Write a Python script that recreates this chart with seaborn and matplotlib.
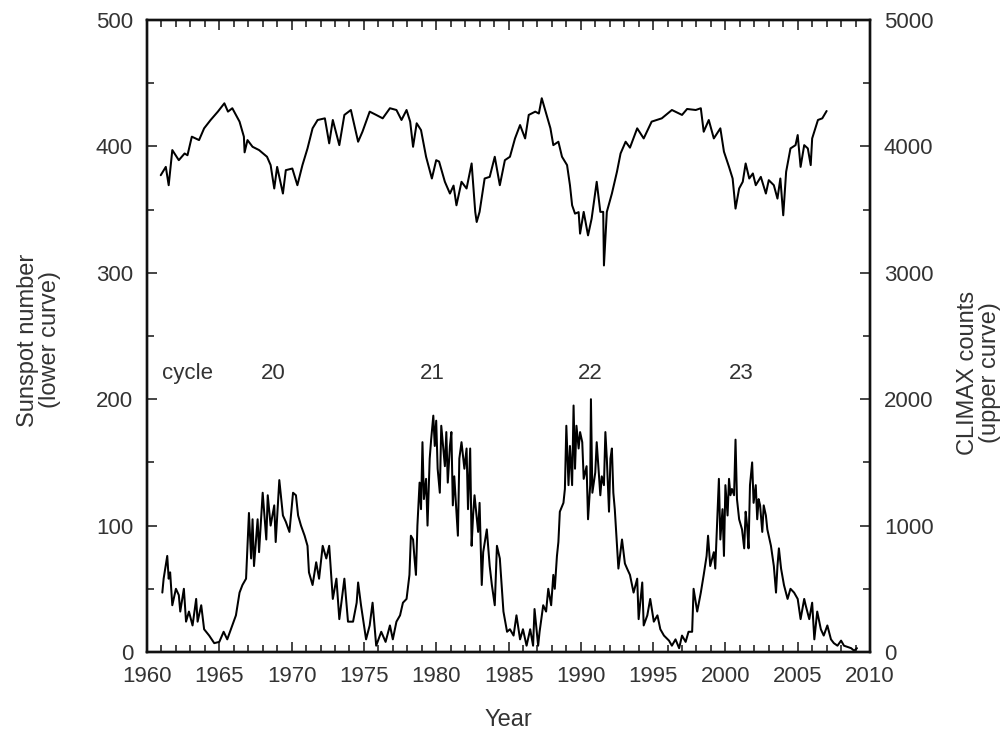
import matplotlib
matplotlib.use("Agg")
import matplotlib.pyplot as plt
from matplotlib.ticker import MultipleLocator
import seaborn as sns
import pandas as pd

# ---- data ----
sunspot_year = [
    1961.06, 1961.15, 1961.4, 1961.5, 1961.6, 1961.75, 1962.0, 1962.2, 1962.3, 1962.55,
    1962.7, 1962.9, 1963.15, 1963.4, 1963.5, 1963.75, 1963.95, 1964.3, 1964.65, 1965.0,
    1965.3, 1965.55, 1965.8, 1966.15, 1966.4, 1966.6, 1966.85, 1967.05, 1967.2, 1967.3,
    1967.4, 1967.65, 1967.75, 1968.0, 1968.25, 1968.35, 1968.55, 1968.8, 1968.9, 1969.15,
    1969.4, 1969.6, 1969.85, 1970.1, 1970.3, 1970.45, 1970.65, 1970.9, 1971.1, 1971.2,
    1971.45, 1971.7, 1971.9, 1972.15, 1972.4, 1972.6, 1972.85, 1973.1, 1973.3, 1973.65,
    1973.9, 1974.25, 1974.5, 1974.6, 1974.8, 1975.15, 1975.4, 1975.6, 1975.85, 1976.2,
    1976.5, 1976.8, 1977.0, 1977.25, 1977.5, 1977.7, 1977.95, 1978.15, 1978.25, 1978.4,
    1978.5, 1978.6, 1978.7, 1978.85, 1978.95, 1979.05, 1979.15, 1979.3, 1979.4, 1979.55,
    1979.65, 1979.8, 1979.9, 1980.0, 1980.1, 1980.25, 1980.35, 1980.6, 1980.7, 1980.8,
    1980.95, 1981.05, 1981.15, 1981.25, 1981.5, 1981.6, 1981.75, 1981.95, 1982.1, 1982.2,
    1982.35, 1982.45, 1982.55, 1982.65, 1982.9, 1983.0, 1983.15, 1983.25, 1983.5, 1983.7,
    1983.85, 1984.05, 1984.2, 1984.4, 1984.65, 1984.9, 1985.1, 1985.35, 1985.55, 1985.8,
    1986.0, 1986.25, 1986.5, 1986.7, 1986.8, 1987.05, 1987.15, 1987.4, 1987.6, 1987.75,
    1987.95, 1988.1, 1988.2, 1988.35, 1988.45, 1988.55, 1988.8, 1988.9, 1989.0, 1989.15,
    1989.25, 1989.4, 1989.5, 1989.6, 1989.7, 1989.85, 1989.95, 1990.1, 1990.2, 1990.4,
    1990.5, 1990.65, 1990.7, 1990.8, 1991.0, 1991.1, 1991.35, 1991.45, 1991.6, 1991.7,
    1991.8, 1991.95, 1992.05, 1992.15, 1992.25, 1992.35, 1992.5, 1992.6, 1992.85, 1993.05,
    1993.2, 1993.4, 1993.65, 1993.9, 1994.0, 1994.25, 1994.35, 1994.6, 1994.8, 1995.05,
    1995.3, 1995.5, 1995.75, 1996.1, 1996.3, 1996.55, 1996.8, 1997.0, 1997.25, 1997.45,
    1997.7, 1997.8, 1998.05, 1998.3, 1998.5, 1998.7, 1998.8, 1998.95, 1999.2, 1999.3,
    1999.55, 1999.65, 1999.8, 1999.9, 2000.0, 2000.15, 2000.25, 2000.35, 2000.45, 2000.6,
    2000.7, 2000.8, 2000.95, 2001.15, 2001.3, 2001.4, 2001.5, 2001.6, 2001.7, 2001.85,
    2001.95, 2002.1, 2002.2, 2002.3, 2002.4, 2002.55, 2002.65, 2002.8, 2002.9, 2003.15,
    2003.35, 2003.5, 2003.6, 2003.7, 2003.85, 2004.05, 2004.3, 2004.5, 2004.75, 2005.0,
    2005.2, 2005.45, 2005.55, 2005.8, 2006.0, 2006.15, 2006.35, 2006.6, 2006.8, 2007.05,
    2007.3, 2007.5, 2007.75, 2008.0, 2008.2, 2008.45, 2008.7, 2008.9, 2009.1,
]
sunspot_value = [
    47, 58, 76, 58, 63, 37, 50, 45, 32, 50,
    24, 32, 21, 42, 24, 37, 18, 13, 7, 8,
    16, 10, 18, 29, 47, 53, 58, 110, 74, 105,
    68, 105, 79, 126, 89, 124, 100, 116, 87, 136,
    108, 103, 95, 126, 124, 108, 100, 92, 84, 63,
    53, 71, 58, 84, 74, 84, 42, 58, 26, 58,
    24, 24, 39, 55, 37, 10, 21, 39, 5, 16,
    8, 21, 10, 24, 29, 39, 42, 61, 92, 89,
    74, 61, 100, 134, 113, 166, 121, 137, 100, 153,
    168, 187, 163, 183, 145, 126, 179, 147, 174, 134,
    163, 174, 116, 139, 92, 153, 166, 145, 161, 113,
    161, 84, 108, 124, 95, 118, 53, 79, 97, 68,
    53, 37, 84, 74, 32, 16, 18, 13, 29, 10,
    18, 5, 18, 5, 34, 5, 16, 37, 32, 50,
    37, 61, 50, 76, 87, 111, 118, 129, 179, 132,
    163, 132, 195, 145, 179, 161, 174, 166, 137, 147,
    105, 132, 200, 126, 142, 166, 124, 139, 132, 174,
    153, 111, 153, 161, 126, 113, 84, 66, 89, 70,
    66, 61, 47, 58, 26, 55, 21, 29, 42, 24,
    29, 18, 13, 9, 5, 10, 3, 13, 8, 16,
    16, 50, 32, 47, 61, 76, 92, 68, 79, 66,
    137, 89, 113, 76, 132, 108, 137, 124, 129, 124,
    168, 121, 105, 97, 82, 111, 100, 82, 132, 150,
    118, 132, 105, 121, 116, 95, 116, 108, 97, 84,
    68, 47, 68, 82, 66, 53, 42, 50, 47, 42,
    26, 42, 37, 26, 39, 10, 32, 18, 13, 21,
    10, 7, 5, 9, 5, 4, 3, 1, 3,
]

climax_year = [
    1960.95, 1961.3, 1961.5, 1961.75, 1962.2, 1962.6, 1962.8, 1963.1, 1963.6, 1963.95,
    1964.4, 1964.9, 1965.35, 1965.6, 1965.9, 1966.4, 1966.7, 1966.75, 1966.95, 1967.3,
    1967.75, 1968.3, 1968.55, 1968.8, 1969.0, 1969.4, 1969.6, 1970.05, 1970.4, 1970.75,
    1971.1, 1971.45, 1971.8, 1972.3, 1972.6, 1972.85, 1973.3, 1973.65, 1974.1, 1974.6,
    1974.9, 1975.4, 1975.85, 1976.3, 1976.8, 1977.25, 1977.6, 1977.95, 1978.2, 1978.4,
    1978.65, 1978.95, 1979.3, 1979.7, 1980.0, 1980.2, 1980.6, 1980.95, 1981.2, 1981.4,
    1981.75, 1982.1, 1982.45, 1982.7, 1982.8, 1983.0, 1983.35, 1983.7, 1984.05, 1984.4,
    1984.75, 1985.1, 1985.45, 1985.8, 1986.15, 1986.4, 1986.85, 1987.1, 1987.3, 1987.5,
    1987.9, 1988.1, 1988.45, 1988.7, 1989.05, 1989.25, 1989.4, 1989.6, 1989.85, 1989.95,
    1990.2, 1990.5, 1990.75, 1991.1, 1991.35, 1991.55, 1991.6, 1991.8, 1992.15, 1992.5,
    1992.75, 1993.1, 1993.4, 1993.9, 1994.35, 1994.9, 1995.6, 1996.3, 1997.0, 1997.35,
    1997.95, 1998.3, 1998.5, 1998.85, 1999.2, 1999.65, 1999.9, 2000.25, 2000.5, 2000.7,
    2000.95, 2001.2, 2001.4, 2001.65, 2001.9, 2002.1, 2002.45, 2002.8, 2003.0, 2003.35,
    2003.6, 2003.8, 2004.0, 2004.2, 2004.5, 2004.85, 2005.0, 2005.2, 2005.45, 2005.7,
    2005.9, 2006.0, 2006.4, 2006.7, 2007.0,
]
climax_value = [
    3772, 3838, 3693, 3971, 3891, 3944, 3930, 4077, 4050, 4143,
    4209, 4275, 4341, 4275, 4302, 4196, 4077, 3953, 4050, 3997,
    3971, 3918, 3852, 3667, 3838, 3627, 3812, 3825, 3693, 3852,
    3984, 4143, 4209, 4222, 4024, 4209, 4010, 4249, 4288, 4037,
    4116, 4275, 4249, 4222, 4302, 4288, 4209, 4288, 4196, 3997,
    4183, 4129, 3918, 3746, 3891, 3880, 3720, 3627, 3690, 3534,
    3720, 3667, 3865, 3482, 3402, 3482, 3746, 3759, 3918, 3693,
    3891, 3918, 4063, 4169, 4063, 4249, 4275, 4260, 4381, 4302,
    4143, 4010, 4037, 3918, 3852, 3693, 3534, 3468, 3480, 3310,
    3482, 3296, 3429, 3720, 3482, 3482, 3058, 3482, 3627, 3799,
    3944, 4037, 3990, 4143, 4063, 4196, 4222, 4288, 4249, 4296,
    4288, 4302, 4116, 4209, 4063, 4143, 3958, 3838, 3746, 3508,
    3667, 3720, 3865, 3746, 3786, 3693, 3759, 3627, 3733, 3693,
    3587, 3746, 3455, 3799, 3984, 4010, 4090, 3838, 4010, 3984,
    3852, 4063, 4209, 4222, 4280,
]

cycle_labels = ["cycle", "20", "21", "22", "23"]
cycle_x = [1962.8, 1968.7, 1979.7, 1990.65, 2001.1]
cycle_y = 220

# ---- styling ----
sns.set_theme(style="ticks")
plt.rcParams["font.family"] = ["Liberation Sans", "DejaVu Sans"]
txt_color = "#333333"

sun_df = pd.DataFrame({"Year": sunspot_year, "Sunspot": sunspot_value})
cli_df = pd.DataFrame({"Year": climax_year, "CLIMAX": climax_value})

fig = plt.figure(figsize=(10.06, 7.34), dpi=100)
ax = fig.add_axes([147 / 1006, 1 - 652 / 734, (870 - 147) / 1006, (652 - 20) / 734])
ax2 = ax.twinx()

sns.lineplot(data=sun_df, x="Year", y="Sunspot", ax=ax, color="black",
             linewidth=1.45, estimator=None, legend=False)
sns.lineplot(data=cli_df, x="Year", y="CLIMAX", ax=ax2, color="black",
             linewidth=1.45, estimator=None, legend=False)

ax.set_xlim(1960, 2010)
ax.set_ylim(0, 500)
ax2.set_ylim(0, 5000)

ax.xaxis.set_major_locator(MultipleLocator(5))
ax.xaxis.set_minor_locator(MultipleLocator(1))
ax.yaxis.set_major_locator(MultipleLocator(100))
ax.yaxis.set_minor_locator(MultipleLocator(50))
ax2.yaxis.set_major_locator(MultipleLocator(1000))
ax2.yaxis.set_minor_locator(MultipleLocator(500))

for a in (ax, ax2):
    for s in a.spines.values():
        s.set_linewidth(1.7)
        s.set_color("#111111")

ax.tick_params(axis="x", which="both", direction="in", top=True, bottom=True,
               labelsize=16, labelcolor=txt_color, pad=10, width=1.2)
ax.tick_params(axis="y", which="both", direction="in", left=True, right=False,
               labelsize=16, labelcolor=txt_color, pad=10, width=1.2)
ax2.tick_params(axis="y", which="both", direction="in", right=True,
                labelsize=16, labelcolor=txt_color, pad=10, width=1.2)
for a in (ax, ax2):
    a.tick_params(which="major", length=7)
    a.tick_params(which="minor", length=5)

ax.set_xlabel("")
ax.set_ylabel("")
ax2.set_ylabel("")

fig.text(508 / 1006, 1 - 720 / 734, "Year", ha="center", va="center",
         fontsize=17, color=txt_color)
fig.text(39 / 1006, 1 - 340 / 734, "Sunspot number\n(lower curve)", rotation=90,
         ha="center", va="center", multialignment="center", fontsize=17,
         color=txt_color, linespacing=1.05)
fig.text(979 / 1006, 1 - 373 / 734, "CLIMAX counts\n(upper curve)", rotation=90,
         ha="center", va="center", multialignment="center", fontsize=17,
         color=txt_color, linespacing=1.05)

for lbl, xv in zip(cycle_labels, cycle_x):
    ax.text(xv, cycle_y, lbl, ha="center", va="center", fontsize=16, color=txt_color)

fig.savefig("out.png", dpi=100, facecolor="white")
